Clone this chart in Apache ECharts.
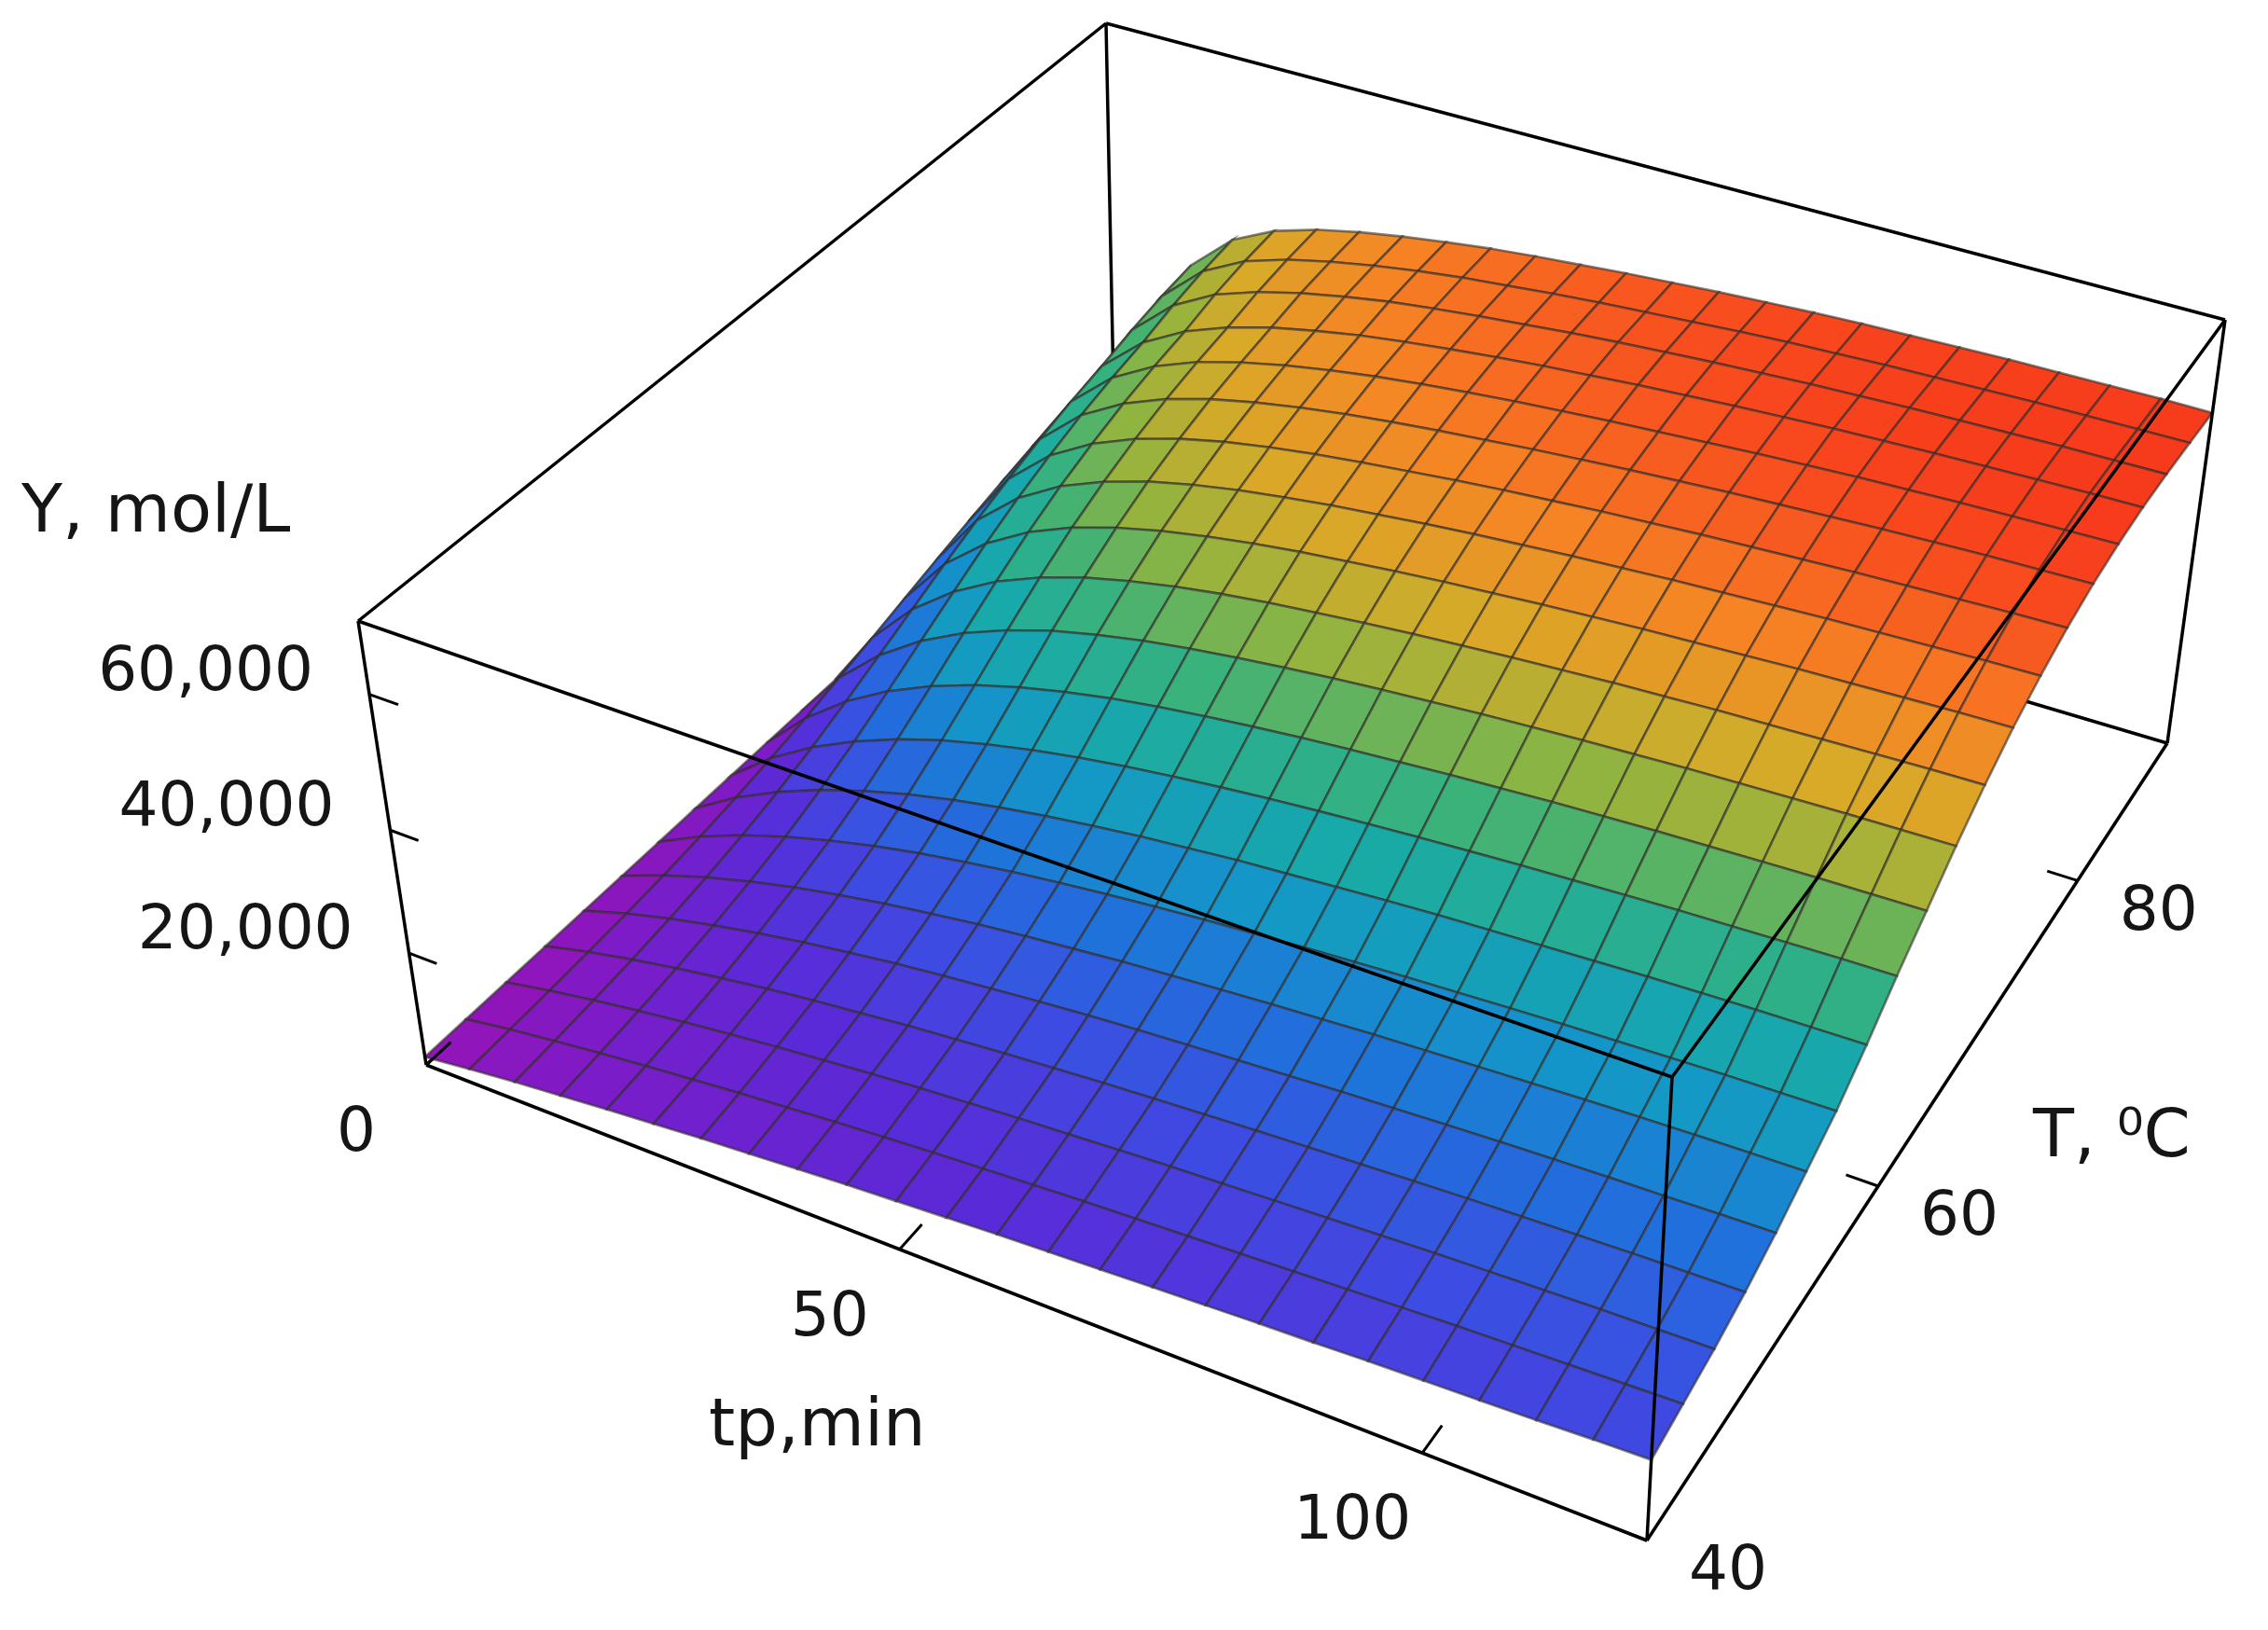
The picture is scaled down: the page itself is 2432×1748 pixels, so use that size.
<!DOCTYPE html>
<html><head><meta charset="utf-8">
<script src="https://cdn.jsdelivr.net/npm/echarts@6/dist/echarts.min.js"></script>
<style>html,body{margin:0;background:#fff}#container{width:2432px;height:1748px}</style>
</head><body><div id="container"></div>
<script>
// grid of the surface: reaction time (min) and temperature (C)
var tpValues = [0, 5, 10, 15, 20, 25, 30, 35, 40, 45, 50, 55, 60, 65, 70, 75, 80, 85, 90, 95, 100, 105, 110, 115, 120];
var tempValues = [40, 42.5, 45, 47.5, 50, 52.5, 55, 57.5, 60, 62.5, 65, 67.5, 70, 72.5, 75, 77.5, 80, 82.5, 85, 87.5, 90];
// Y in thousand mol/L, one row per temperature, one column per tp
var yRows = [
  [1.5, 2.5, 3.4, 4.2, 5, 5.7, 6.4, 7, 7.6, 8.2, 8.7, 9.2, 9.7, 10.1, 10.5, 10.9, 11.3, 11.7, 12, 12.4, 12.7, 13, 13.3, 13.7, 14],
  [1.5, 2.8, 3.9, 4.9, 5.8, 6.6, 7.4, 8.1, 8.8, 9.4, 10, 10.5, 11, 11.5, 11.9, 12.3, 12.7, 13.1, 13.5, 13.9, 14.3, 14.6, 14.9, 15.2, 15.5],
  [1.5, 3.1, 4.5, 5.7, 6.8, 7.8, 8.7, 9.5, 10.3, 11, 11.6, 12.2, 12.7, 13.2, 13.7, 14.1, 14.5, 14.9, 15.3, 15.7, 16, 16.3, 16.6, 16.8, 17],
  [1.5, 3.5, 5.2, 6.7, 8, 9.2, 10.2, 11.1, 12, 12.7, 13.4, 14, 14.6, 15.1, 15.6, 16.1, 16.5, 16.9, 17.3, 17.7, 18, 18.3, 18.6, 18.8, 19],
  [1.5, 4, 6.1, 7.9, 9.5, 10.9, 12.1, 13.2, 14.1, 14.9, 15.7, 16.4, 17, 17.5, 18, 18.5, 19, 19.4, 19.8, 20.2, 20.5, 20.8, 21, 21.3, 21.5],
  [1.5, 4.6, 7.2, 9.4, 11.3, 12.9, 14.3, 15.5, 16.6, 17.5, 18.3, 19.1, 19.7, 20.3, 20.9, 21.4, 21.9, 22.3, 22.7, 23.1, 23.5, 23.8, 24.1, 24.3, 24.5],
  [1.5, 5.4, 8.6, 11.2, 13.4, 15.3, 16.9, 18.2, 19.4, 20.4, 21.3, 22.1, 22.8, 23.4, 24, 24.5, 25, 25.4, 25.8, 26.2, 26.5, 26.8, 27.1, 27.3, 27.5],
  [1.5, 6.4, 10.3, 13.5, 16.1, 18.3, 20.1, 21.6, 22.9, 24, 25, 25.8, 26.6, 27.2, 27.8, 28.4, 28.9, 29.3, 29.7, 30.1, 30.5, 30.8, 31.1, 31.3, 31.5],
  [1.5, 7.6, 12.4, 16.2, 19.3, 21.8, 23.8, 25.5, 26.9, 28.1, 29.1, 30, 30.8, 31.5, 32.1, 32.7, 33.2, 33.7, 34.1, 34.5, 34.9, 35.2, 35.5, 35.8, 36],
  [1.5, 9, 14.8, 19.3, 22.8, 25.6, 27.8, 29.6, 31.1, 32.3, 33.3, 34.2, 35, 35.7, 36.3, 36.9, 37.4, 37.9, 38.3, 38.7, 39, 39.3, 39.6, 39.8, 40],
  [1.5, 10.6, 17.4, 22.5, 26.4, 29.4, 31.8, 33.6, 35.1, 36.3, 37.3, 38.2, 39, 39.7, 40.3, 40.9, 41.4, 41.9, 42.3, 42.7, 43, 43.3, 43.6, 43.8, 44],
  [1.5, 12.3, 20, 25.6, 29.8, 32.9, 35.3, 37.1, 38.6, 39.8, 40.8, 41.6, 42.4, 43.1, 43.7, 44.3, 44.8, 45.3, 45.7, 46.1, 46.4, 46.7, 47, 47.3, 47.5],
  [1.5, 14, 22.6, 28.6, 32.9, 36, 38.3, 40.1, 41.5, 42.7, 43.7, 44.5, 45.3, 46, 46.6, 47.2, 47.7, 48.2, 48.6, 49, 49.4, 49.7, 50, 50.3, 50.5],
  [1.5, 15.7, 25, 31.2, 35.5, 38.5, 40.8, 42.5, 43.9, 45, 46, 46.8, 47.6, 48.3, 48.9, 49.5, 50, 50.5, 50.9, 51.3, 51.7, 52, 52.3, 52.6, 52.8],
  [1.5, 17.3, 27.1, 33.4, 37.6, 40.6, 42.8, 44.5, 45.8, 46.9, 47.8, 48.6, 49.4, 50.1, 50.7, 51.3, 51.8, 52.3, 52.7, 53.1, 53.5, 53.8, 54.1, 54.4, 54.6],
  [1.5, 18.8, 29, 35.3, 39.4, 42.3, 44.4, 46, 47.3, 48.4, 49.3, 50.1, 50.8, 51.5, 52.1, 52.7, 53.2, 53.7, 54.1, 54.5, 54.9, 55.2, 55.5, 55.7, 55.9],
  [1.5, 20.2, 30.6, 36.8, 40.8, 43.6, 45.6, 47.2, 48.5, 49.6, 50.5, 51.3, 52, 52.6, 53.2, 53.7, 54.2, 54.7, 55.1, 55.5, 55.8, 56.1, 56.3, 56.5, 56.7],
  [1.5, 21.4, 31.9, 38, 41.9, 44.6, 46.6, 48.1, 49.4, 50.4, 51.3, 52.1, 52.8, 53.4, 54, 54.5, 55, 55.4, 55.8, 56.1, 56.4, 56.6, 56.8, 57, 57.1],
  [1.5, 22.4, 33.4, 39.6, 43.4, 45.8, 47.6, 49, 50.2, 51.1, 51.9, 52.6, 53.3, 53.9, 54.4, 54.9, 55.3, 55.7, 56, 56.3, 56.5, 56.7, 56.9, 57, 57.1],
  [1.5, 23.2, 34.6, 40.8, 44.4, 46.6, 48.2, 49.5, 50.6, 51.5, 52.2, 52.9, 53.5, 54, 54.5, 55, 55.4, 55.7, 56, 56.2, 56.4, 56.6, 56.7, 56.8, 56.9],
  [1.5, 23.8, 35.4, 41.6, 45, 47.1, 48.6, 49.8, 50.8, 51.7, 52.4, 53, 53.6, 54.1, 54.6, 55, 55.4, 55.7, 55.9, 56.1, 56.3, 56.4, 56.5, 56.6, 56.6]
];
var tpTicks = [0, 50, 100];
var tempTicks = [40, 60, 80];
var yTicks = [20000, 40000, 60000];
var tpRange = [0, 120], tempRange = [40, 90], yRange = [0, 70000];

// screen placement of the box corners (A: tp0/T40, B: tp120/T40, C: tp120/T90, D: tp0/T90; *2 = top)
var box = {
  A: [457, 1142], B: [1766, 1652], C: [2324, 797], D: [1195, 462],
  A2: [384, 666], B2: [1793, 1155], C2: [2386, 343], D2: [1186, 25]
};
function persp(t, k) { return k * t / (1 + (k - 1) * t); }
function lerp(p, q, t) { return [p[0] + (q[0] - p[0]) * t, p[1] + (q[1] - p[1]) * t]; }
function project(tp, temp, y) {
  var u = persp((tp - tpRange[0]) / (tpRange[1] - tpRange[0]), 0.887);
  var v = persp((temp - tempRange[0]) / (tempRange[1] - tempRange[0]), 1.2);
  var w = persp((y - yRange[0]) / (yRange[1] - yRange[0]), 0.842);
  var bot = lerp(lerp(box.A, box.B, u), lerp(box.D, box.C, u), v);
  var top = lerp(lerp(box.A2, box.B2, u), lerp(box.D2, box.C2, u), v);
  return lerp(bot, top, w);
}

// surface cells [tp index, T index, mean Y, nearness], far ones first
var cells = [];
for (var i = 0; i < tempValues.length - 1; i++) {
  for (var j = 0; j < tpValues.length - 1; j++) {
    var mean = (yRows[i][j] + yRows[i][j + 1] + yRows[i + 1][j] + yRows[i + 1][j + 1]) * 250;
    cells.push([j, i, mean, j / (tpValues.length - 1) + 1 - i / (tempValues.length - 1)]);
  }
}
cells.sort(function (a, b) { return a[3] - b[3]; });

var backEdges = [
  [[0, 90, 0], [0, 40, 0]], [[0, 90, 0], [120, 90, 0]], [[0, 90, 0], [0, 90, 70000]],
  [[0, 90, 70000], [0, 40, 70000]], [[0, 90, 70000], [120, 90, 70000]]
];
var frontEdges = [
  [[0, 40, 0], [120, 40, 0]], [[120, 40, 0], [120, 90, 0]], [[0, 40, 0], [0, 40, 70000]],
  [[0, 40, 70000], [120, 40, 70000]], [[120, 40, 0], [120, 40, 70000]],
  [[120, 40, 70000], [120, 90, 70000]], [[120, 90, 0], [120, 90, 70000]]
];

var font = 'DejaVu Sans';
var textColor = '#151515';
var lineStyle = {stroke: '#000', lineWidth: 3.5};

function edgeSeries(edges, z) {
  return {
    type: 'custom', z: z, silent: true, clip: false,
    data: edges.map(function (e, k) { return [k, 0]; }),
    renderItem: function (params, api) {
      var e = edges[api.value(0)];
      var p = api.coord(project(e[0][0], e[0][1], e[0][2]));
      var q = api.coord(project(e[1][0], e[1][1], e[1][2]));
      return {type: 'line', shape: {x1: p[0], y1: p[1], x2: q[0], y2: q[1]}, style: lineStyle};
    }
  };
}

function tickSeries(values, pointOf, tickDir, labelOffset, align, fmt) {
  return {
    type: 'custom', z: 5, silent: true, clip: false,
    data: values.map(function (v) { return [v, 0]; }),
    renderItem: function (params, api) {
      var val = api.value(0);
      var p = api.coord(project.apply(null, pointOf(val)));
      var q = api.coord(project.apply(null, tickDir(val)));
      return {
        type: 'group',
        children: [
          {type: 'line', shape: {x1: p[0], y1: p[1], x2: q[0], y2: q[1]}, style: {stroke: '#000', lineWidth: 3}},
          {type: 'text', x: p[0] + labelOffset[0], y: p[1] + labelOffset[1],
            style: {text: fmt(val), font: '66px ' + font, fill: textColor, align: align, verticalAlign: 'middle'}}
        ]
      };
    }
  };
}

var myChart = echarts.init(document.getElementById('container'));
var option = {
  animation: false,
  grid: {left: 0, right: 0, top: 0, bottom: 0},
  xAxis: {type: 'value', min: 0, max: 2432, show: false},
  yAxis: {type: 'value', min: 0, max: 1748, inverse: true, show: false},
  visualMap: {
    show: false, seriesIndex: 1, dimension: 2, min: 0, max: 60000,
    inRange: {color: ['#a010b0', '#7a1cc8', '#5a2ad8', '#3d4ce2', '#2070dc', '#1496c8', '#18aaa8',
      '#3ab27a', '#90b440', '#d8aa28', '#f68424', '#f84a1e', '#f42218']}
  },
  graphic: [
    {type: 'text', left: 23, top: 515, z: 10, style: {text: 'Y, mol/L', font: '72px ' + font, fill: textColor}},
    {type: 'text', left: 760, top: 1495, z: 10, style: {text: 'tp,min', font: '72px ' + font, fill: textColor}},
    {type: 'text', left: 2180, top: 1185, z: 10, style: {text: 'T, \u2070C', font: '72px ' + font, fill: textColor}}
  ],
  series: [
    edgeSeries(backEdges, 1),
    {
      type: 'custom', z: 2, silent: true, clip: false,
      data: cells,
      renderItem: function (params, api) {
        var j = api.value(0), i = api.value(1);
        var pts = [[j, i], [j + 1, i], [j + 1, i + 1], [j, i + 1]].map(function (c) {
          return api.coord(project(tpValues[c[0]], tempValues[c[1]], yRows[c[1]][c[0]] * 1000));
        });
        return {type: 'polygon', shape: {points: pts},
          style: {fill: api.visual('color'), stroke: 'rgba(50,45,40,0.6)', lineWidth: 2.6}};
      }
    },
    edgeSeries(frontEdges, 3),
    tickSeries(tpTicks, function (v) { return [v, 40, 0]; }, function (v) { return [v, 41.5, 0]; },
      [-75, 75], 'center', function (v) { return String(v); }),
    tickSeries(tempTicks, function (v) { return [120, v, 0]; }, function (v) { return [117, v, 0]; },
      [45, 35], 'left', function (v) { return String(v); }),
    tickSeries(yTicks, function (v) { return [0, 40, v]; }, function (v) { return [3, 40, v]; },
      [-60, -22], 'right', function (v) { return v.toLocaleString('en-US'); })
  ]
};
myChart.setOption(option);
window.addEventListener('resize', myChart.resize);
</script></body></html>
